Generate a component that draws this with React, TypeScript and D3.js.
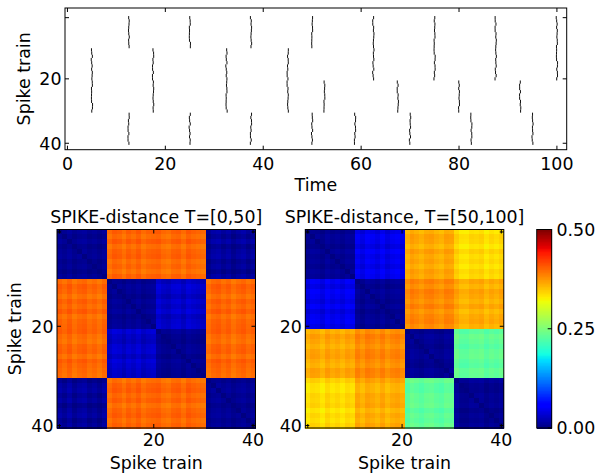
import React from 'react';
import * as d3 from 'd3';

const W = 598;
const H = 473;
const FONT = '"DejaVu Sans", "Liberation Sans", sans-serif';
const FS = 17.4;

// ---------- data ----------
const trainNumbers = d3.range(1, 41);
const spikesGroupA = [12.5, 25, 37.5, 50, 62.5, 75, 87.5, 100];
const spikesGroupB = [5, 17.5, 32.5, 45, 62.5, 75, 87.5, 100];
const spikesGroupC = [5, 17.5, 32.5, 45, 52.5, 67.5, 80, 92.5];
const spikesGroupD = [12.5, 25, 37.5, 50, 58.75, 70, 82.5, 95];
const spikeJitter = [
  0.06, -0.09, 0.03, 0.11, -0.04, -0.12, 0.08, 0.01, -0.06, 0.13,
  -0.03, 0.09, -0.11, 0.04, 0.12, -0.08, 0.0, 0.1, -0.14, 0.05,
  -0.01, 0.08, -0.1, 0.03, 0.12, -0.05, -0.13, 0.07, 0.02, -0.07,
  0.1, -0.04, 0.05, -0.12, 0.09, -0.02, 0.13, -0.09, 0.02, -0.06,
];
const rasterXTicks = [0, 20, 40, 60, 80, 100];
const trainTicks = [1, 20, 40];
const trainTickLabels = ['', '20', '40'];

// block mean distances (4 groups of 10 trains)
const blockDist1 = [
  [0.008, 0.40, 0.40, 0.010],
  [0.40, 0.008, 0.031, 0.40],
  [0.40, 0.031, 0.008, 0.40],
  [0.010, 0.40, 0.40, 0.008],
];
const blockDist2 = [
  [0.008, 0.046, 0.365, 0.338],
  [0.046, 0.008, 0.382, 0.363],
  [0.365, 0.382, 0.008, 0.232],
  [0.338, 0.363, 0.232, 0.008],
];
// per-train deviations
const trainVar1 = [
  0.004, -0.003, 0.006, -0.005, 0.002, 0.005, -0.004, 0.001, -0.006, 0.003,
  -0.004, 0.005, 0.002, -0.006, 0.004, -0.002, 0.006, -0.005, 0.001, 0.003,
  0.005, -0.003, -0.006, 0.002, 0.004, -0.005, 0.006, 0.001, -0.002, -0.004,
  -0.005, 0.003, 0.006, -0.002, 0.004, -0.006, 0.001, 0.005, -0.003, 0.002,
];
const trainVar2 = [
  -0.005, 0.004, 0.002, -0.006, 0.006, -0.002, 0.003, -0.004, 0.005, 0.001,
  0.003, -0.005, 0.006, 0.002, -0.004, 0.005, -0.006, 0.001, 0.004, -0.003,
  -0.004, 0.006, 0.001, -0.005, 0.003, 0.005, -0.002, -0.006, 0.004, 0.002,
  0.006, -0.004, -0.005, 0.003, 0.001, 0.005, -0.006, 0.002, -0.003, 0.004,
];
const colorbarTicks = [0, 0.25, 0.5];
const colorbarTickLabels = ['0.00', '0.25', '0.50'];

// ---------- helpers ----------
const groupSpikes = [spikesGroupA, spikesGroupB, spikesGroupC, spikesGroupD];

const jetR = d3.scaleLinear().domain([0, 0.35, 0.66, 0.89, 1]).range([0, 0, 1, 1, 0.5]).clamp(true);
const jetG = d3.scaleLinear().domain([0, 0.125, 0.375, 0.64, 0.91, 1]).range([0, 0, 1, 1, 0, 0]).clamp(true);
const jetB = d3.scaleLinear().domain([0, 0.11, 0.34, 0.65, 1]).range([0.5, 1, 1, 0, 0]).clamp(true);
const jet = (t: number) =>
  `rgb(${Math.round(jetR(t) * 255)},${Math.round(jetG(t) * 255)},${Math.round(jetB(t) * 255)})`;

function buildMatrix(block: number[][], v: number[]) {
  return trainNumbers.map((_, i) =>
    trainNumbers.map((__, j) => {
      if (i === j) return 0;
      const gi = Math.floor(i / 10);
      const gj = Math.floor(j / 10);
      const s = gi === gj ? 0.6 : 1;
      return Math.max(0.001, block[gi][gj] + s * (v[i] + v[j]));
    })
  );
}

const color = d3.scaleLinear().domain([0, 0.5]).range([0, 1]).clamp(true);

// ---------- layout ----------
const R = { x0: 65, x1: 566.7, y0: 8, y1: 149.7 };
const HM_Y0 = 229.5;
const HM_SIZE = 198.5;
const HM1_X0 = 57;
const HM2_X0 = 305.3;
const CB = { x0: 536.7, x1: 551.7, y0: 229.5, y1: 428 };
const TICK = 4;

function Raster() {
  const x = d3.scaleLinear().domain([-0.5, 102]).range([R.x0, R.x1]);
  const y = d3.scaleLinear().domain([-2, 42]).range([R.y0, R.y1]);
  const lines: JSX.Element[] = [];
  trainNumbers.forEach((t) => {
    const g = Math.floor((t - 1) / 10);
    groupSpikes[g].forEach((s, k) => {
      const xv = x(s + spikeJitter[(t * 7 + k * 13) % 40]);
      lines.push(
        <line key={`${t}-${k}`} x1={xv} x2={xv} y1={y(t - 0.5)} y2={y(t + 0.5)} stroke="#111" strokeWidth={1} />
      );
    });
  });
  return (
    <g>
      {lines}
      {rasterXTicks.map((v) => (
        <g key={`xt${v}`}>
          <line x1={x(v)} x2={x(v)} y1={R.y1} y2={R.y1 - TICK} stroke="#000" />
          <line x1={x(v)} x2={x(v)} y1={R.y0} y2={R.y0 + TICK} stroke="#000" />
          <text x={x(v)} y={169.5} textAnchor="middle" fontSize={FS} fontFamily={FONT}>{v}</text>
        </g>
      ))}
      {trainTicks.map((v, i) => (
        <g key={`yt${v}`}>
          <line x1={R.x0} x2={R.x0 + TICK} y1={y(v)} y2={y(v)} stroke="#000" />
          <line x1={R.x1} x2={R.x1 - TICK} y1={y(v)} y2={y(v)} stroke="#000" />
          <text x={61.5} y={y(v) + 6.3} textAnchor="end" fontSize={FS} fontFamily={FONT}>{trainTickLabels[i]}</text>
        </g>
      ))}
      <rect x={R.x0} y={R.y0} width={R.x1 - R.x0} height={R.y1 - R.y0} fill="none" stroke="#000" strokeWidth={1} />
      <text x={(R.x0 + R.x1) / 2} y={191} textAnchor="middle" fontSize={FS} fontFamily={FONT}>Time</text>
      <text transform={`translate(29.5,${(R.y0 + R.y1) / 2}) rotate(-90)`} textAnchor="middle" fontSize={FS} fontFamily={FONT}>Spike train</text>
    </g>
  );
}

function Heatmap({ x0, matrix, title, showYLabel }: { x0: number; matrix: number[][]; title: string; showYLabel: boolean }) {
  const sx = d3.scaleLinear().domain([0.5, 40.5]).range([x0, x0 + HM_SIZE]);
  const sy = d3.scaleLinear().domain([0.5, 40.5]).range([HM_Y0, HM_Y0 + HM_SIZE]);
  const cw = sx(1.5) - sx(0.5);
  const x1 = x0 + HM_SIZE;
  const y1 = HM_Y0 + HM_SIZE;
  return (
    <g>
      <g shapeRendering="crispEdges">
        {matrix.map((row, i) =>
          row.map((v, j) => (
            <rect key={`${i}-${j}`} x={sx(j + 0.5)} y={sy(i + 0.5)} width={cw + 0.6} height={cw + 0.6} fill={jet(color(v))} />
          ))
        )}
      </g>
      {trainTicks.map((v, i) => (
        <g key={`t${v}`}>
          <line x1={sx(v)} x2={sx(v)} y1={y1} y2={y1 - TICK} stroke="#000" />
          <line x1={sx(v)} x2={sx(v)} y1={HM_Y0} y2={HM_Y0 + TICK} stroke="#000" />
          <line x1={x0} x2={x0 + TICK} y1={sy(v)} y2={sy(v)} stroke="#000" />
          <line x1={x1} x2={x1 - TICK} y1={sy(v)} y2={sy(v)} stroke="#000" />
          <text x={sx(v)} y={446} textAnchor="middle" fontSize={FS} fontFamily={FONT}>{trainTickLabels[i]}</text>
          <text x={x0 - 3.5} y={sy(v) + 6.3} textAnchor="end" fontSize={FS} fontFamily={FONT}>{trainTickLabels[i]}</text>
        </g>
      ))}
      <rect x={x0} y={HM_Y0} width={HM_SIZE} height={HM_SIZE} fill="none" stroke="#000" strokeWidth={1} />
      <text x={x0 + HM_SIZE / 2} y={223} textAnchor="middle" fontSize={FS} fontFamily={FONT}>{title}</text>
      <text x={x0 + HM_SIZE / 2} y={469} textAnchor="middle" fontSize={FS} fontFamily={FONT}>Spike train</text>
      {showYLabel && (
        <text transform={`translate(20.5,${HM_Y0 + HM_SIZE / 2}) rotate(-90)`} textAnchor="middle" fontSize={FS} fontFamily={FONT}>Spike train</text>
      )}
    </g>
  );
}

function Colorbar() {
  const y = d3.scaleLinear().domain([0, 0.5]).range([CB.y1, CB.y0]);
  const levels = d3.range(0, 256);
  const step = 0.5 / 256;
  return (
    <g>
      <g shapeRendering="crispEdges">
        {levels.map((l) => (
          <rect key={l} x={CB.x0} y={y((l + 1) * step)} width={CB.x1 - CB.x0} height={y(l * step) - y((l + 1) * step) + 0.5} fill={jet(color((l + 0.5) * step))} />
        ))}
      </g>
      {colorbarTicks.map((v, i) => (
        <g key={v}>
          <line x1={CB.x1} x2={CB.x1 - TICK} y1={y(v)} y2={y(v)} stroke="#000" />
          <text x={556.5} y={y(v) + 6.3} textAnchor="start" fontSize={FS} fontFamily={FONT}>{colorbarTickLabels[i]}</text>
        </g>
      ))}
      <rect x={CB.x0} y={CB.y0} width={CB.x1 - CB.x0} height={CB.y1 - CB.y0} fill="none" stroke="#000" strokeWidth={1} />
    </g>
  );
}

export default function App() {
  const m1 = buildMatrix(blockDist1, trainVar1);
  const m2 = buildMatrix(blockDist2, trainVar2);
  return (
    <svg width={W} height={H} viewBox={`0 0 ${W} ${H}`} style={{ position: 'absolute', left: 0, top: 0, background: '#fff' }}>
      <rect x={0} y={0} width={W} height={H} fill="#fff" />
      <Raster />
      <Heatmap x0={HM1_X0} matrix={m1} title="SPIKE-distance T=[0,50]" showYLabel={true} />
      <Heatmap x0={HM2_X0} matrix={m2} title="SPIKE-distance, T=[50,100]" showYLabel={false} />
      <Colorbar />
    </svg>
  );
}
